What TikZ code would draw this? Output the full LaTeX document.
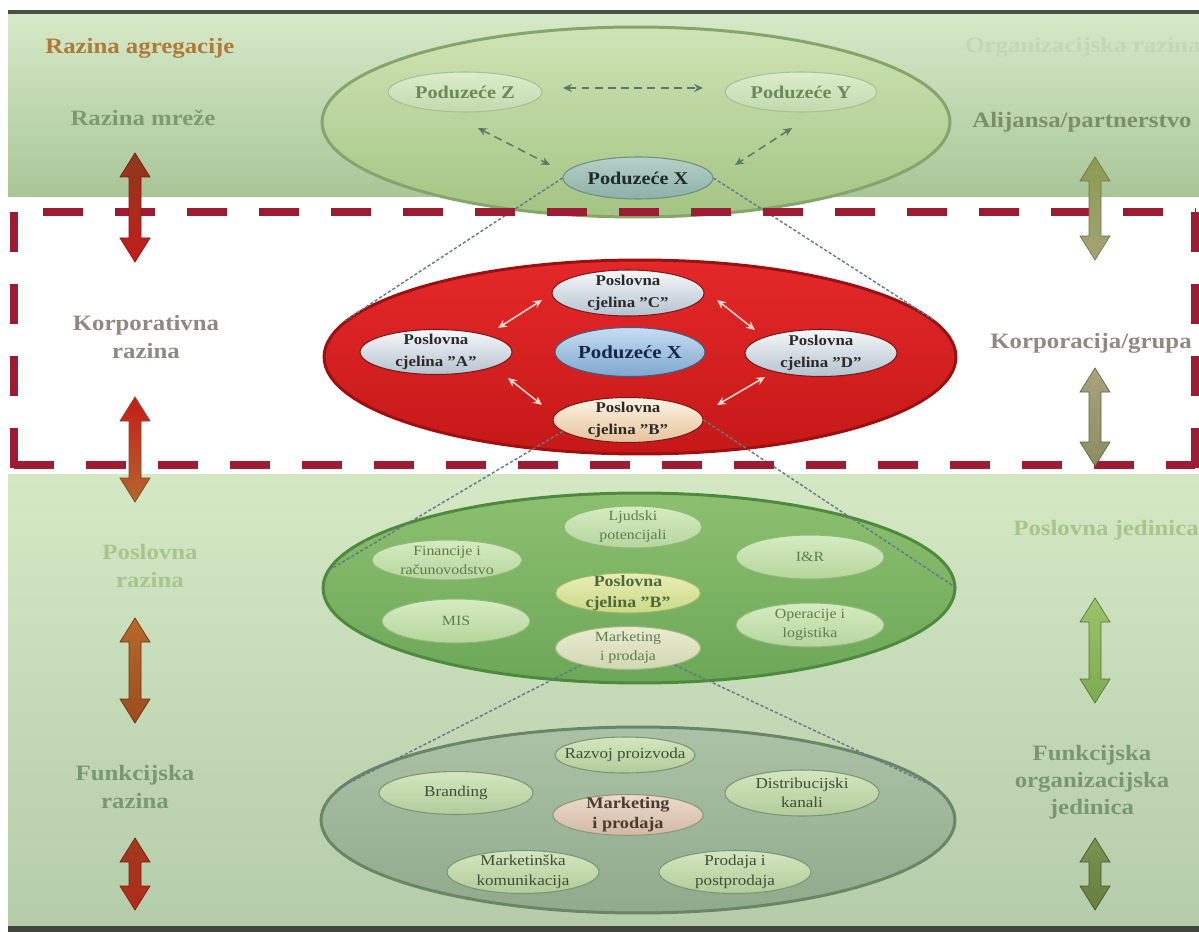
\documentclass[tikz,border=0pt]{standalone}
\usepackage{fontspec}
\setmainfont[FakeStretch=1.13]{Liberation Serif}
\usetikzlibrary{shapes.geometric,arrows.meta,calc}
\definecolor{cTopA}{HTML}{D6E9C8}
\definecolor{cTopB}{HTML}{A9C698}
\definecolor{cBotA}{HTML}{D4E8C3}
\definecolor{cBotB}{HTML}{B5CCAA}
\definecolor{cLine}{HTML}{4A5048}
\definecolor{cDash}{HTML}{9E1C33}
\definecolor{cAgg}{HTML}{B07A38}
\definecolor{cMreze}{HTML}{7F9A70}
\definecolor{cOrg}{HTML}{C4D9B2}
\definecolor{cAli}{HTML}{7A9068}
\definecolor{cKorp}{HTML}{8C8A82}
\definecolor{cPosl}{HTML}{A6C68E}
\definecolor{cFunk}{HTML}{7A9870}
\definecolor{cDot}{HTML}{64788A}
\definecolor{cNet}{HTML}{5C7866}
\definecolor{cRedArr}{HTML}{F6DCCC}
\definecolor{e1}{HTML}{CFE4B5}\definecolor{e2}{HTML}{A3C483}\definecolor{e3}{HTML}{86A56A}
\definecolor{r1}{HTML}{E4282A}\definecolor{r2}{HTML}{C61818}\definecolor{r3}{HTML}{9C1010}
\definecolor{g1}{HTML}{8CC070}\definecolor{g2}{HTML}{6CA758}\definecolor{g3}{HTML}{4E8A3C}
\definecolor{b1}{HTML}{ACC2A6}\definecolor{b2}{HTML}{90AA8C}\definecolor{b3}{HTML}{6B8666}
\definecolor{zy1}{HTML}{DCEDCC}\definecolor{zy2}{HTML}{C2DAAE}\definecolor{zy3}{HTML}{A6C290}\definecolor{zyT}{HTML}{6B8A5C}
\definecolor{px1}{HTML}{B6D1C8}\definecolor{px2}{HTML}{8DB0A6}\definecolor{px3}{HTML}{6C8F86}\definecolor{pxT}{HTML}{1C2C28}
\definecolor{ri1}{HTML}{F6F8FA}\definecolor{ri2}{HTML}{B4C2CE}\definecolor{ri3}{HTML}{7A1A1A}\definecolor{riT}{HTML}{2A2A2A}
\definecolor{rx1}{HTML}{C6DDF2}\definecolor{rx2}{HTML}{7FA7CE}\definecolor{rx3}{HTML}{3E5E80}\definecolor{rxT}{HTML}{14284A}
\definecolor{rb1}{HTML}{FFF4E4}\definecolor{rb2}{HTML}{E6C39A}
\definecolor{gi1}{HTML}{D6EBC2}\definecolor{gi2}{HTML}{B6D69E}\definecolor{gi3}{HTML}{8DBB74}\definecolor{giT}{HTML}{5E7D4C}
\definecolor{gb1}{HTML}{E9EEB6}\definecolor{gb2}{HTML}{CAD985}\definecolor{gb3}{HTML}{9DB865}\definecolor{gbT}{HTML}{4D6A38}
\definecolor{gm1}{HTML}{EBEBD2}\definecolor{gm2}{HTML}{D0D8B2}\definecolor{gm3}{HTML}{9DB880}
\definecolor{bi1}{HTML}{D4E6C0}\definecolor{bi2}{HTML}{B2CC9A}\definecolor{bi3}{HTML}{7A9870}\definecolor{biT}{HTML}{3F4F36}
\definecolor{bm1}{HTML}{ECDACA}\definecolor{bm2}{HTML}{D2B9A6}\definecolor{bm3}{HTML}{8C9A78}\definecolor{bmT}{HTML}{4A3A30}
\newcommand{\dblarr}[5]{%
\definecolor{arrA}{HTML}{#4}\definecolor{arrB}{HTML}{#5}%
\shadedraw[top color=arrA, bottom color=arrB, draw=arrB!70!black, line width=0.4pt]
 (#1,#2) -- (#1+15,#2+24) -- (#1+6,#2+24) -- (#1+6,#3-24) -- (#1+15,#3-24) -- (#1,#3)
 -- (#1-15,#3-24) -- (#1-6,#3-24) -- (#1-6,#2+24) -- (#1-15,#2+24) -- cycle;}
\begin{document}
\begin{tikzpicture}[x=0.02cm,y=-0.02cm,
  hd/.style={font=\bfseries\fontsize{12.5}{16}\selectfont, align=center, inner sep=0pt},
  big/.style={ellipse, inner sep=0pt, line width=1.7pt},
  small/.style={ellipse, inner sep=0pt, line width=0.6pt},
  lt/.style={align=center, inner sep=0pt},
  zy/.style={small, top color=zy1, bottom color=zy2, draw=zy3},
  zyt/.style={lt, text=zyT, font=\bfseries\fontsize{10.2}{12}\selectfont},
  pxs/.style={small, top color=px1, bottom color=px2, draw=px3},
  pxt/.style={lt, text=pxT, font=\bfseries\fontsize{10.2}{12}\selectfont},
  redin/.style={small, top color=ri1, bottom color=ri2, draw=ri3},
  redt/.style={lt, text=riT, font=\bfseries\fontsize{8.5}{12.3}\selectfont},
  rxs/.style={small, top color=rx1, bottom color=rx2, draw=rx3},
  rxt/.style={lt, text=rxT, font=\bfseries\fontsize{10.5}{12}\selectfont},
  rbs/.style={small, top color=rb1, bottom color=rb2, draw=ri3},
  grin/.style={small, top color=gi1, bottom color=gi2, draw=gi3},
  grt/.style={lt, text=giT, font=\fontsize{8}{10.8}\selectfont},
  gbs/.style={small, top color=gb1, bottom color=gb2, draw=gb3},
  gbt/.style={lt, text=gbT, font=\bfseries\fontsize{9}{12}\selectfont},
  gmps/.style={small, top color=gm1, bottom color=gm2, draw=gm3},
  btin/.style={small, top color=bi1, bottom color=bi2, draw=bi3},
  btt/.style={lt, text=biT, font=\fontsize{8.6}{11}\selectfont},
  bmps/.style={small, top color=bm1, bottom color=bm2, draw=bm3},
  bmpt/.style={lt, text=bmT, font=\bfseries\fontsize{9.2}{11.5}\selectfont},
  netarr/.style={draw=cNet, line width=0.85pt, dash pattern=on 4.5pt off 3pt, {Stealth[length=5pt,width=4.5pt]}-{Stealth[length=5pt,width=4.5pt]}},
  redarr/.style={draw=cRedArr, line width=0.85pt, {Stealth[length=5pt,width=4.5pt]}-{Stealth[length=5pt,width=4.5pt]}},
  dotl/.style={draw=cDot, line width=0.8pt, dash pattern=on 1.8pt off 1.2pt},
  rdash/.style={draw=cDash, line width=0.16cm, dash pattern=on 0.8cm off 0.64cm}
]
\useasboundingbox (0,0) rectangle (1199,932);
\clip (0,0) rectangle (1199,932);
% background bands
\fill[white] (0,0) rectangle (1199,932);
\shade[top color=cTopA, bottom color=cTopB] (8,14) rectangle (1199,197);
\shade[top color=cBotA, bottom color=cBotB] (8,474) rectangle (1199,926);
\fill[cLine] (8,10) rectangle (1199,14);
\fill[cLine!85!black] (8,926) rectangle (1199,932);

% big ellipses
\node[big, minimum width=12.56cm, minimum height=3.8cm, top color=e1, bottom color=e2, draw=e3] (net) at (636,122) {};
\node[big, minimum width=12.64cm, minimum height=3.88cm, top color=r1, bottom color=r2, draw=r3] (red) at (640,357) {};
\node[big, minimum width=12.64cm, minimum height=3.8cm, top color=g1, bottom color=g2, draw=g3] (grn) at (639,588) {};
\node[big, minimum width=12.68cm, minimum height=3.72cm, top color=b1, bottom color=b2, draw=b3] (bot) at (638,820) {};

% inner ellipses: network level
\node[zy, minimum width=3.08cm, minimum height=0.8cm, label={[zyt]center:Poduzeće Z}] (Z) at (465,92) {};
\node[zy, minimum width=3.04cm, minimum height=0.8cm, label={[zyt]center:Poduzeće Y}] (Y) at (801,92) {};
\node[pxs, minimum width=3.0cm, minimum height=0.84cm, label={[pxt]center:Poduzeće X}] (PX) at (638,178) {};

% dotted zoom lines
\draw[dotl] (PX.west) -- (red.173);
\draw[dotl] (PX.east) -- (red.7);

% corporate level
\node[redin, minimum width=3.04cm, minimum height=0.92cm, label={[redt]center:{Poslovna\\cjelina "C"}}] (C) at (628,293) {};
\node[redin, minimum width=3.04cm, minimum height=0.9cm, label={[redt]center:{Poslovna\\cjelina "A"}}] (A) at (436,352) {};
\node[rxs, minimum width=3.0cm, minimum height=0.98cm, label={[rxt]center:Poduzeće X}] (RX) at (630,352) {};
\node[redin, minimum width=3.04cm, minimum height=0.94cm, label={[redt]center:{Poslovna\\cjelina "D"}}] (D) at (821,353) {};
\node[rbs, minimum width=3.0cm, minimum height=0.9cm, label={[redt]center:{Poslovna\\cjelina "B"}}] (B) at (628,420) {};

\draw[dotl] (B.190) -- (grn.177);
\draw[dotl] (B.east) -- (grn.east);

% business level
\node[grin, minimum width=2.76cm, minimum height=0.84cm, label={[grt]center:{Ljudski\\potencijali}}] (LP) at (633,527) {};
\node[grin, minimum width=3.0cm, minimum height=0.8cm, label={[grt]center:{Financije i\\računovodstvo}}] (FR) at (447,560) {};
\node[grin, minimum width=2.96cm, minimum height=0.88cm, label={[grt]center:I\&R}] (IR) at (810,557) {};
\node[gbs, minimum width=2.9cm, minimum height=0.8cm, label={[gbt]center:{Poslovna\\cjelina "B"}}] (GB) at (628,593) {};
\node[grin, minimum width=2.96cm, minimum height=0.88cm, label={[grt]center:MIS}] (MIS) at (456,621) {};
\node[grin, minimum width=2.96cm, minimum height=0.88cm, label={[grt]center:{Operacije i\\logistika}}] (OL) at (810,625) {};
\node[gmps, minimum width=2.9cm, minimum height=0.86cm, label={[grt]center:{Marketing\\i prodaja}}] (MP) at (628,648) {};

\draw[dotl] (MP.200) -- (bot.174);
\draw[dotl] (MP.-20) -- (bot.6);

% functional level
\node[btin, minimum width=2.8cm, minimum height=0.72cm, label={[btt]center:Razvoj proizvoda}] (RP) at (625,755) {};
\node[btin, minimum width=3.08cm, minimum height=0.86cm, label={[btt]center:Branding}] (BR) at (456,793) {};
\node[btin, minimum width=3.08cm, minimum height=0.92cm, label={[btt]center:{Distribucijski\\kanali}}] (DK) at (802,793) {};
\node[bmps, minimum width=3.0cm, minimum height=0.82cm, label={[bmpt]center:{Marketing\\i prodaja}}] (MPC) at (628,815) {};
\node[btin, minimum width=3.04cm, minimum height=0.86cm, label={[btt]center:{Marketinška\\komunikacija}}] (MK) at (523,872) {};
\node[btin, minimum width=3.04cm, minimum height=0.86cm, label={[btt]center:{Prodaja i\\postprodaja}}] (PP) at (735,872) {};

% network arrows
\draw[netarr] ($(Z.center)+(98,-4)$) -- ($(Y.center)+(-98,-4)$);
\draw[netarr] ($(Z.center)+(13,36)$) -- ($(PX.center)+(-88,-13)$);
\draw[netarr] ($(Y.center)+(-9,36)$) -- ($(PX.center)+(97,-13)$);

% corporate arrows
\draw[redarr] ($(A.center)+(62,-24)$) -- ($(C.center)+(-86,7)$);
\draw[redarr] ($(C.center)+(89,7)$) -- ($(D.center)+(-66,-23)$);
\draw[redarr] ($(D.center)+(-56,24)$) -- ($(B.center)+(89,-15)$);
\draw[redarr] ($(A.center)+(72,26)$) -- ($(B.center)+(-86,-15)$);

% red dashed frame
\draw[rdash, dash phase=0.86cm] (14,212) -- (1195,212);
\draw[rdash] (14,212) -- (14,468);
\draw[rdash] (14,465) -- (1195,465);
\draw[rdash] (1195,212) -- (1195,468);

% side arrows
\dblarr{135}{153}{262}{8E3A1C}{C41C1C}
\dblarr{135}{397}{502}{C81A1A}{B2682E}
\dblarr{135}{618}{723}{B8682C}{9C4C1E}
\dblarr{135}{838}{910}{A23A1E}{B02C1A}
\dblarr{1095}{157}{260}{8A9C52}{A6A274}
\dblarr{1095}{368}{466}{A8A47E}{8C8C62}
\dblarr{1095}{598}{703}{9CC46A}{7CAA52}
\dblarr{1095}{838}{910}{7A9450}{667E40}

% side labels
\node[hd, text=cAgg, anchor=west] (agg) at (45,48) {Razina agregacije};
\node[hd, text=cMreze] (mreze) at (143,118) {Razina mreže};
\node[hd, text=cOrg, anchor=west] (org) at (965,47) {Organizacijska razina};
\node[hd, text=cAli] (ali) at (1082,122) {Alijansa/partnerstvo};
\node[hd, text=cKorp] (korp) at (146,337) {Korporativna\\razina};
\node[hd, text=cKorp] (kgrp) at (1091,343) {Korporacija/grupa};
\node[hd, text=cPosl] (posl) at (150,566) {Poslovna\\razina};
\node[hd, text=cPosl, anchor=west] (pj) at (1013,530) {Poslovna jedinica};
\node[hd, text=cFunk] (funk) at (135,787) {Funkcijska\\razina};
\node[hd, text=cFunk, font=\bfseries\fontsize{12.5}{15.4}\selectfont] (foj) at (1092,782) {Funkcijska\\organizacijska\\jedinica};
\end{tikzpicture}
\end{document}
